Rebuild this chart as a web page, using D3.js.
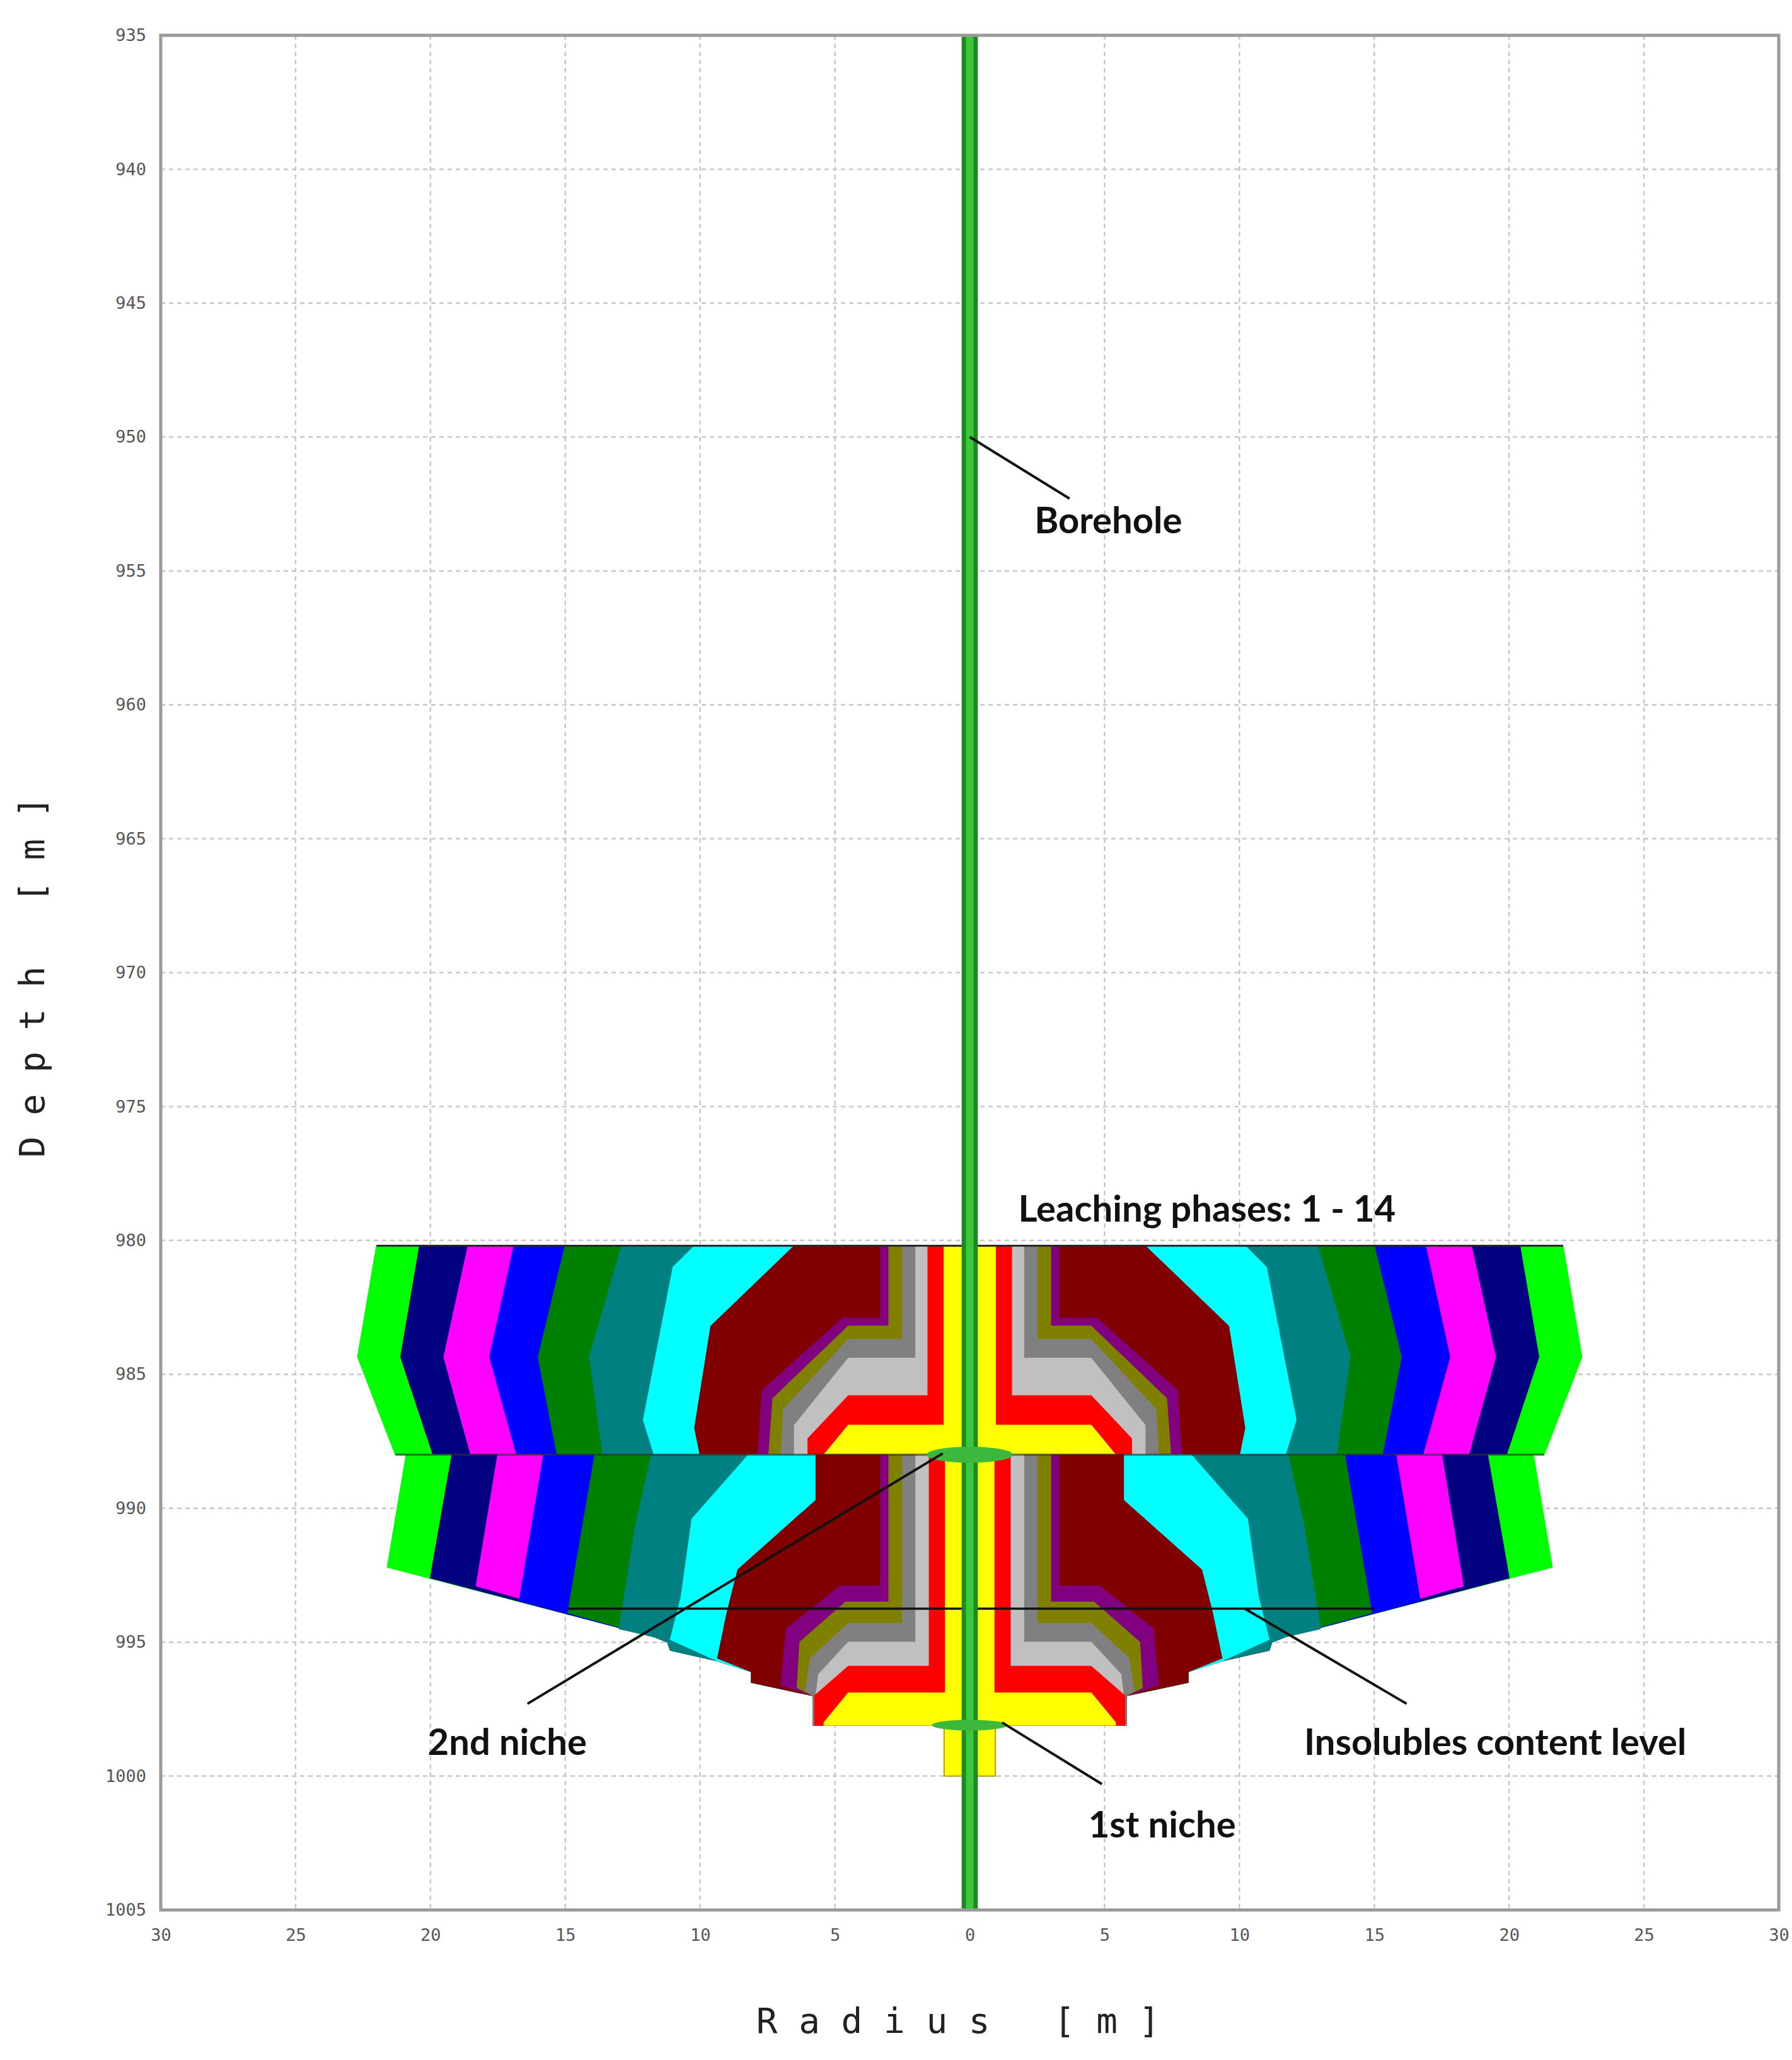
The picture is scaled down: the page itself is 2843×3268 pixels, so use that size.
<!DOCTYPE html>
<html><head><meta charset="utf-8">
<script src="https://cdn.jsdelivr.net/npm/d3@7"></script>
<style>body{margin:0;background:#fff}</style></head>
<body><svg id="c" width="2843" height="3268"></svg>
<script>
// ---- data ----
const phaseNames = ["14","13","12","11","10","9","8","7","6","5","4","3","2","1"];
const phaseColors = ["#00ff00","#000080","#ff00ff","#0000ff","#008000","#008080","#00ffff","#800000","#800080","#808000","#808080","#c0c0c0","#ff0000","#ffff00"];
// upper section profiles: [depth, radius] right side, top to bottom
const upperProfiles = [
 [[980.2,22.0],[984.35,22.7],[988,21.3]],
 [[980.2,20.4],[984.35,21.1],[988,19.9]],
 [[980.2,18.6],[984.35,19.5],[988,18.5]],
 [[980.2,16.9],[984.35,17.8],[988,16.8]],
 [[980.2,15.0],[984.35,16.0],[988,15.3]],
 [[980.2,12.9],[984.35,14.1],[988,13.6]],
 [[980.2,10.2],[981.0,11.0],[986.7,12.1],[988,11.7]],
 [[980.2,6.5],[983.2,9.6],[987.0,10.2],[988,10.0]],
 [[980.2,3.3],[982.9,3.3],[982.9,4.7],[985.6,7.7],[988,7.85]],
 [[980.2,3.0],[983.2,3.0],[983.2,4.5],[985.9,7.3],[988,7.45]],
 [[980.2,2.5],[983.7,2.5],[983.7,4.5],[986.3,6.9],[988,7.0]],
 [[980.2,2.0],[984.4,2.0],[984.4,4.5],[986.9,6.5],[988,6.5]],
 [[980.2,1.55],[985.8,1.55],[985.8,4.5],[987.4,6.0],[988,6.0]],
 [[980.2,0.95],[986.9,0.95],[986.9,4.5],[988,5.4]]
];
const lowerProfiles = [
 [[988,20.9],[992.2,21.6]],
 [[988,19.2],[992.6,20.0]],
 [[988,17.5],[992.9,18.3]],
 [[988,15.8],[993.45,16.7]],
 [[988,13.9],[993.9,14.9]],
 [[988,11.8],[990.7,12.4],[994.5,13.0]],
 [[988,8.2],[990.4,10.3],[993.3,10.7],[994.9,11.1]],
 [[988,5.7],[989.7,5.7],[992.3,8.6],[993.9,9.0],[995.6,9.35]],
 [[988,3.3],[992.9,3.3],[992.9,4.8],[994.5,6.8],[996.6,7.0]],
 [[988,3.0],[993.5,3.0],[993.5,4.6],[995.0,6.3],[996.7,6.4]],
 [[988,2.5],[994.3,2.5],[994.3,4.5],[995.6,5.9],[996.8,6.1]],
 [[988,2.0],[995.0,2.0],[995.0,4.5],[996.2,5.6],[997.0,5.7]],
 [[988,1.5],[995.9,1.5],[995.9,4.5],[997.0,5.75],[998.1,5.75]],
 [[988,0.9],[996.9,0.9],[996.9,4.5],[998.0,5.4],[998.1,5.4]]
];
// cavern floor (envelope) chain, right side
const floorChain = [[992.2,21.6],[994.8,11.7],[995.0,11.2],[995.3,11.1],[995.7,9.35],[996.1,8.1],[996.5,8.1],[997.0,5.8],[998.1,5.8],[998.1,0]];
const sumpStub = [[998.1,0.95],[1000.0,0.95]];
const insolublesLevel = {depth:993.75, r0:-14.9, r1:15.0};
const xTicks = [-30,-25,-20,-15,-10,-5,0,5,10,15,20,25,30];
const yTicks = [935,940,945,950,955,960,965,970,975,980,985,990,995,1000,1005];
const annotations = [
 {text:"Borehole", r:2.4, d:953.6, from:[0,950], to:[3.7,952.3]},
 {text:"Leaching phases: 1 - 14", r:1.8, d:979.3},
 {text:"2nd niche", r:-20.1, d:999.2, from:[-1.0,987.95], to:[-16.4,997.3]},
 {text:"Insolubles content level", r:12.4, d:999.2, from:[10.2,993.75], to:[16.2,997.3]},
 {text:"1st niche", r:4.4, d:1002.3, from:[1.2,998.0], to:[4.9,1000.3]}
];

// ---- drawing ----
const svg = d3.select("#c");
const x = d3.scaleLinear().domain([-30,30]).range([255,2822]);
const y = d3.scaleLinear().domain([935,1005]).range([56,3030]);

const g = svg.append("g");
g.selectAll(".vg").data(xTicks.slice(1,-1)).join("line")
 .attr("x1",d=>x(d)).attr("x2",d=>x(d)).attr("y1",y(935)).attr("y2",y(1005))
 .attr("stroke","#c8c8c8").attr("stroke-width",2.5).attr("stroke-dasharray","7,6");
g.selectAll(".hg").data(yTicks).join("line")
 .attr("x1",x(-30)).attr("x2",x(30)).attr("y1",d=>y(d)).attr("y2",d=>y(d))
 .attr("stroke","#c8c8c8").attr("stroke-width",2.5).attr("stroke-dasharray","7,6");

function polyPts(right){
  const left = right.slice().reverse().map(p=>[p[0],-p[1]]);
  return right.concat(left).map(p=>[x(p[1]),y(p[0])]);
}
const line = d3.line();
upperProfiles.forEach((prof,i)=>{
  const pts = prof.concat([[988,0]]);
  svg.append("path").attr("d",line(polyPts(pts))+"Z")
   .attr("fill",phaseColors[i]).attr("stroke",phaseColors[i]).attr("stroke-width",1.5);
});
lowerProfiles.forEach((prof,i)=>{
  const last = prof[prof.length-1];
  const chain = floorChain.filter(p=>p[1]<last[1]-0.05 && p[0]>=last[0]-0.01);
  const pts = prof.concat(chain);
  svg.append("path").attr("d",line(polyPts(pts))+"Z")
   .attr("fill",phaseColors[i]).attr("stroke",phaseColors[i]).attr("stroke-width",1.5);
});
svg.append("rect").attr("x",x(-sumpStub[0][1])).attr("width",x(sumpStub[0][1])-x(-sumpStub[0][1]))
 .attr("y",y(sumpStub[0][0])).attr("height",y(sumpStub[1][0])-y(sumpStub[0][0]))
 .attr("fill","#ffff00").attr("stroke","#b8a000").attr("stroke-width",2);
svg.append("line").attr("x1",x(-22)).attr("x2",x(22)).attr("y1",y(980.2)).attr("y2",y(980.2)).attr("stroke","#222").attr("stroke-width",3);
svg.append("line").attr("x1",x(-21.3)).attr("x2",x(21.3)).attr("y1",y(988)).attr("y2",y(988)).attr("stroke","#333").attr("stroke-width",3).attr("opacity",0.7);
svg.append("line").attr("x1",x(insolublesLevel.r0)).attr("x2",x(insolublesLevel.r1))
 .attr("y1",y(insolublesLevel.depth)).attr("y2",y(insolublesLevel.depth)).attr("stroke","#111").attr("stroke-width",3.5);
svg.append("rect").attr("x",x(-0.3)).attr("width",x(0.3)-x(-0.3)).attr("y",y(935)).attr("height",y(1005)-y(935)).attr("fill","#1d8a1d");
svg.append("rect").attr("x",x(-0.14)).attr("width",x(0.14)-x(-0.14)).attr("y",y(935)).attr("height",y(1005)-y(935)).attr("fill","#3cc83c");
svg.append("ellipse").attr("cx",x(0)).attr("cy",y(988)).attr("rx",x(1.6)-x(0)).attr("ry",y(988.3)-y(988)).attr("fill","#3cb83c");
svg.append("ellipse").attr("cx",x(0)).attr("cy",y(998.1)).attr("rx",x(1.4)-x(0)).attr("ry",y(998.3)-y(998.1)).attr("fill","#3cb83c");

svg.append("rect").attr("x",x(-30)).attr("y",y(935)).attr("width",x(30)-x(-30)).attr("height",y(1005)-y(935))
 .attr("fill","none").attr("stroke","#9a9a9a").attr("stroke-width",5);

const ax = svg.append("g").attr("transform",`translate(0,${y(1005)+22})`)
 .call(d3.axisBottom(x).tickValues(xTicks).tickFormat(d=>Math.abs(d)).tickSize(0));
ax.select(".domain").remove();
ax.selectAll("text").attr("font-family","DejaVu Sans Mono").attr("font-size",27).attr("fill","#555").attr("dy","0.9em");
const ay = svg.append("g").attr("transform",`translate(${x(-30)-20},0)`)
 .call(d3.axisLeft(y).tickValues(yTicks).tickFormat(d3.format("d")).tickSize(0));
ay.select(".domain").remove();
ay.selectAll("text").attr("font-family","DejaVu Sans Mono").attr("font-size",27).attr("fill","#555");

svg.append("text").text("R a d i u s   [ m ]").attr("x",1520).attr("y",3225).attr("text-anchor","middle")
 .attr("font-family","DejaVu Sans Mono").attr("font-size",56).attr("fill","#222").style("white-space","pre");
svg.append("text").text("D e p t h   [ m ]").attr("transform",`translate(70,1550) rotate(-90)`).attr("text-anchor","middle")
 .attr("font-family","DejaVu Sans Mono").attr("font-size",56).attr("fill","#222").style("white-space","pre");

annotations.forEach(a=>{
  if(a.from) svg.append("line").attr("x1",x(a.from[0])).attr("y1",y(a.from[1])).attr("x2",x(a.to[0])).attr("y2",y(a.to[1]))
     .attr("stroke","#111").attr("stroke-width",4);
  svg.append("text").text(a.text).attr("x",x(a.r)).attr("y",y(a.d))
   .attr("font-family","Lato").attr("font-weight","bold").attr("font-size",58).attr("fill","#111");
});
</script></body></html>
